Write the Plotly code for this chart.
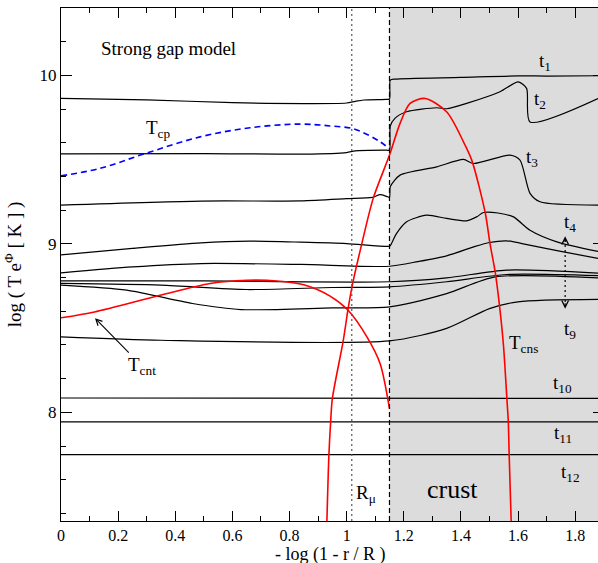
import plotly.graph_objects as go

# ---- temperature profiles t1 ... t12 (x = -log(1 - r/R), y = log(T e^Phi [K])) ----
t1_x = [0.0, 0.3, 0.6, 0.85, 1.0, 1.03, 1.06, 1.14, 1.15, 1.153, 1.17, 1.4, 1.6, 1.7, 1.88]
t1_y = [9.863, 9.855, 9.838, 9.832, 9.836, 9.846, 9.854, 9.858, 9.86, 9.972, 9.978, 9.988, 9.997, 9.996, 9.998]

t2_x = [0.0, 0.5, 0.85, 1.0, 1.03, 1.14, 1.15, 1.153, 1.169, 1.21, 1.315, 1.35, 1.42, 1.537, 1.601, 1.63, 1.642, 1.88]
t2_y = [9.534, 9.536, 9.533, 9.542, 9.552, 9.556, 9.556, 9.70, 9.745, 9.784, 9.808, 9.802, 9.834, 9.903, 9.962, 9.923, 9.724, 9.863]

t3_x = [0.0, 0.49, 0.84, 1.0, 1.09, 1.117, 1.14, 1.15, 1.153, 1.187, 1.315, 1.409, 1.444, 1.572, 1.607, 1.642, 1.677, 1.88]
t3_y = [9.23, 9.254, 9.255, 9.268, 9.276, 9.292, 9.282, 9.276, 9.34, 9.408, 9.457, 9.501, 9.477, 9.527, 9.497, 9.30, 9.25, 9.23]

t4_x = [0.0, 0.25, 0.49, 0.66, 0.84, 1.0, 1.15, 1.153, 1.175, 1.21, 1.28, 1.35, 1.42, 1.455, 1.479, 1.53, 1.584, 1.642, 1.736, 1.88]
t4_y = [8.935, 8.973, 9.006, 9.016, 9.01, 9.002, 8.986, 8.99, 9.062, 9.131, 9.17, 9.151, 9.137, 9.16, 9.186, 9.183, 9.16, 9.081, 9.012, 8.955]

t5_x = [0.0, 0.25, 0.49, 0.84, 1.15, 1.25, 1.35, 1.45, 1.5, 1.56, 1.64, 1.75, 1.88]
t5_y = [8.828, 8.863, 8.883, 8.878, 8.867, 8.895, 8.929, 8.985, 9.008, 9.018, 8.992, 8.955, 8.914]

t6_x = [0.0, 0.5, 1.15, 1.35, 1.56, 1.88]
t6_y = [8.78, 8.78, 8.775, 8.798, 8.844, 8.826]

t7_x = [0.0, 0.35, 0.65, 0.95, 1.15, 1.35, 1.56, 1.88]
t7_y = [8.765, 8.755, 8.729, 8.741, 8.745, 8.775, 8.818, 8.811]

t8_x = [0.0, 0.23, 0.46, 0.63, 0.95, 1.15, 1.35, 1.52, 1.88]
t8_y = [8.755, 8.725, 8.646, 8.61, 8.62, 8.626, 8.705, 8.804, 8.798]

t9_x = [0.0, 0.35, 1.15, 1.35, 1.5, 1.6, 1.88]
t9_y = [8.448, 8.428, 8.424, 8.498, 8.616, 8.656, 8.67]

t10_x = [0.0, 1.88]
t10_y = [8.085, 8.083]
t11_x = [0.0, 1.88]
t11_y = [7.943, 7.943]
t12_x = [0.0, 1.88]
t12_y = [7.749, 7.749]

# ---- critical temperatures ----
tcp_x = [0.0, 0.137, 0.289, 0.487, 0.662, 0.837, 0.942, 1.019, 1.07, 1.117, 1.149]
tcp_y = [9.404, 9.448, 9.533, 9.635, 9.689, 9.711, 9.70, 9.685, 9.651, 9.606, 9.566]

tcnt_x = [0.0, 0.117, 0.347, 0.522, 0.651, 0.756, 0.85, 0.942, 1.005, 1.071, 1.117, 1.15]
tcnt_y = [8.561, 8.596, 8.695, 8.765, 8.784, 8.78, 8.757, 8.69, 8.606, 8.448, 8.29, 8.022]

tcns_x = [0.930, 0.938, 0.944, 0.950, 0.988, 1.006, 1.023, 1.053, 1.093, 1.15, 1.187, 1.222, 1.275,
          1.35, 1.409, 1.438, 1.485, 1.502, 1.52, 1.535, 1.549, 1.561, 1.566, 1.569, 1.577]
tcns_y = [7.30, 7.749, 7.943, 8.082, 8.424, 8.624, 8.78, 9.0, 9.27, 9.527, 9.715, 9.834, 9.863,
          9.784, 9.606, 9.497, 9.186, 9.0, 8.834, 8.636, 8.398, 8.082, 7.943, 7.749, 7.30]

# ---- reference positions ----
R_MU = 1.018        # muon threshold radius
CRUST_EDGE = 1.15   # crust-core interface
X_RANGE = [0.0, 1.88]
Y_RANGE = [7.355, 10.40]

SERIF = "Liberation Serif, Times New Roman, serif"

fig = go.Figure()

profiles = [(t1_x, t1_y), (t2_x, t2_y), (t3_x, t3_y), (t4_x, t4_y), (t5_x, t5_y),
            (t6_x, t6_y), (t7_x, t7_y), (t8_x, t8_y), (t9_x, t9_y),
            (t10_x, t10_y), (t11_x, t11_y), (t12_x, t12_y)]
for px_, py_ in profiles:
    fig.add_trace(go.Scatter(x=px_, y=py_, mode="lines",
                             line=dict(color="black", width=1.2, shape="spline", smoothing=0.7),
                             hoverinfo="skip", showlegend=False))

fig.add_trace(go.Scatter(x=tcp_x, y=tcp_y, mode="lines",
                         line=dict(color="#0000ff", width=1.6, dash="6px,4px", shape="spline", smoothing=1.0),
                         showlegend=False))
fig.add_trace(go.Scatter(x=tcnt_x, y=tcnt_y, mode="lines",
                         line=dict(color="#ff0000", width=1.6, shape="spline", smoothing=0.8),
                         showlegend=False))
fig.add_trace(go.Scatter(x=tcns_x, y=tcns_y, mode="lines",
                         line=dict(color="#ff0000", width=1.6, shape="spline", smoothing=0.8),
                         showlegend=False))

# crust shading and boundary markers
fig.add_shape(type="rect", xref="x", yref="y", x0=CRUST_EDGE, x1=X_RANGE[1], y0=Y_RANGE[0], y1=Y_RANGE[1],
              fillcolor="#dcdcdc", line=dict(width=0), layer="below")
fig.add_shape(type="line", xref="x", yref="y", x0=CRUST_EDGE, x1=CRUST_EDGE, y0=Y_RANGE[0], y1=Y_RANGE[1],
              line=dict(color="black", width=1.2, dash="5px,3px"))
fig.add_shape(type="line", xref="x", yref="y", x0=R_MU, x1=R_MU, y0=Y_RANGE[0], y1=Y_RANGE[1],
              line=dict(color="#555555", width=1.2, dash="2px,3px"))

# dotted double arrow spanning t4 ... t9
ARROW_X = 1.765
fig.add_shape(type="line", xref="x", yref="y", x0=ARROW_X, x1=ARROW_X, y0=8.625, y1=9.035,
              line=dict(color="black", width=1.2, dash="2px,3px"))

ann = []
for tip_y, dy in [(9.045, 7), (8.615, -7)]:
    ann.append(dict(x=ARROW_X, y=tip_y, xref="x", yref="y", ax=0, ay=dy, text="",
                    showarrow=True, arrowhead=5, arrowsize=1.1, arrowwidth=1.2, arrowcolor="black"))


def label(x, y, text, size=19, **kw):
    d = dict(x=x, y=y, xref="x", yref="y", text=text, showarrow=False,
             font=dict(family=SERIF, size=size, color="black"), xanchor="center", yanchor="middle")
    d.update(kw)
    return d


ann += [
    label(0.375, 10.162, "Strong gap model"),
    label(1.696, 10.079, "t<sub>1</sub>"),
    label(1.677, 9.853, "t<sub>2</sub>"),
    label(1.649, 9.508, "t<sub>3</sub>"),
    label(1.782, 9.123, "t<sub>4</sub>"),
    label(1.782, 8.487, "t<sub>9</sub>"),
    label(1.754, 8.167, "t<sub>10</sub>"),
    label(1.756, 7.870, "t<sub>11</sub>"),
    label(1.782, 7.641, "t<sub>12</sub>"),
    label(0.340, 9.684, "T<sub>cp</sub>"),
    label(1.619, 8.406, "T<sub>cns</sub>"),
    label(1.068, 7.514, "R<sub>μ</sub>"),
    label(1.369, 7.540, "crust", size=26),
]
# T_cnt label with arrow pointing to the curve
ann.append(dict(x=0.119, y=8.559, xref="x", yref="y", ax=47, ay=48, text="T<sub>cnt</sub>",
                showarrow=True, arrowhead=5, arrowsize=1.1, arrowwidth=1.1, arrowcolor="black",
                font=dict(family=SERIF, size=19, color="black")))

# axis titles
ann.append(dict(x=0.5, y=-0.066, xref="paper", yref="paper", text="- log (1 - r / R )",
                showarrow=False, font=dict(family=SERIF, size=18, color="black"),
                xanchor="center", yanchor="middle"))
ann.append(dict(x=-0.088, y=0.50, xref="paper", yref="paper", text="log ( T e<sup>Φ</sup> [ K ] )",
                textangle=-90, showarrow=False, font=dict(family=SERIF, size=19, color="black"),
                xanchor="center", yanchor="middle"))

fig.update_layout(
    width=598, height=563,
    margin=dict(l=61, r=0, t=8, b=42),
    paper_bgcolor="white", plot_bgcolor="white",
    showlegend=False,
    annotations=ann,
    xaxis=dict(range=X_RANGE, dtick=0.2, tick0=0, showgrid=False, zeroline=False,
               showline=True, linecolor="black", linewidth=1.2, mirror="ticks",
               ticks="inside", ticklen=10, tickwidth=1.2, tickcolor="black", ticklabelstandoff=0,
               minor=dict(dtick=0.1, ticklen=5, tickwidth=1.2, ticks="inside", tickcolor="black", showgrid=False),
               tickfont=dict(family=SERIF, size=16, color="black")),
    yaxis=dict(range=Y_RANGE, dtick=1, tick0=0, showgrid=False, zeroline=False,
               showline=True, linecolor="black", linewidth=1.2, mirror=False,
               ticks="inside", ticklen=11, tickwidth=1.2, tickcolor="black",
               minor=dict(dtick=0.2, ticklen=5, tickwidth=1.2, ticks="inside", tickcolor="black", showgrid=False),
               tickfont=dict(family=SERIF, size=17, color="black")),
    yaxis2=dict(range=Y_RANGE, overlaying="y", side="right", dtick=1, tick0=0,
                showgrid=False, zeroline=False, showline=False, showticklabels=False,
                ticks="inside", ticklen=5, tickwidth=1.2, tickcolor="black"),
)
# anchor trace so the right-hand tick axis is drawn
fig.add_trace(go.Scatter(x=[None], y=[None], yaxis="y2", showlegend=False, hoverinfo="skip"))

fig.write_html("out.html")
